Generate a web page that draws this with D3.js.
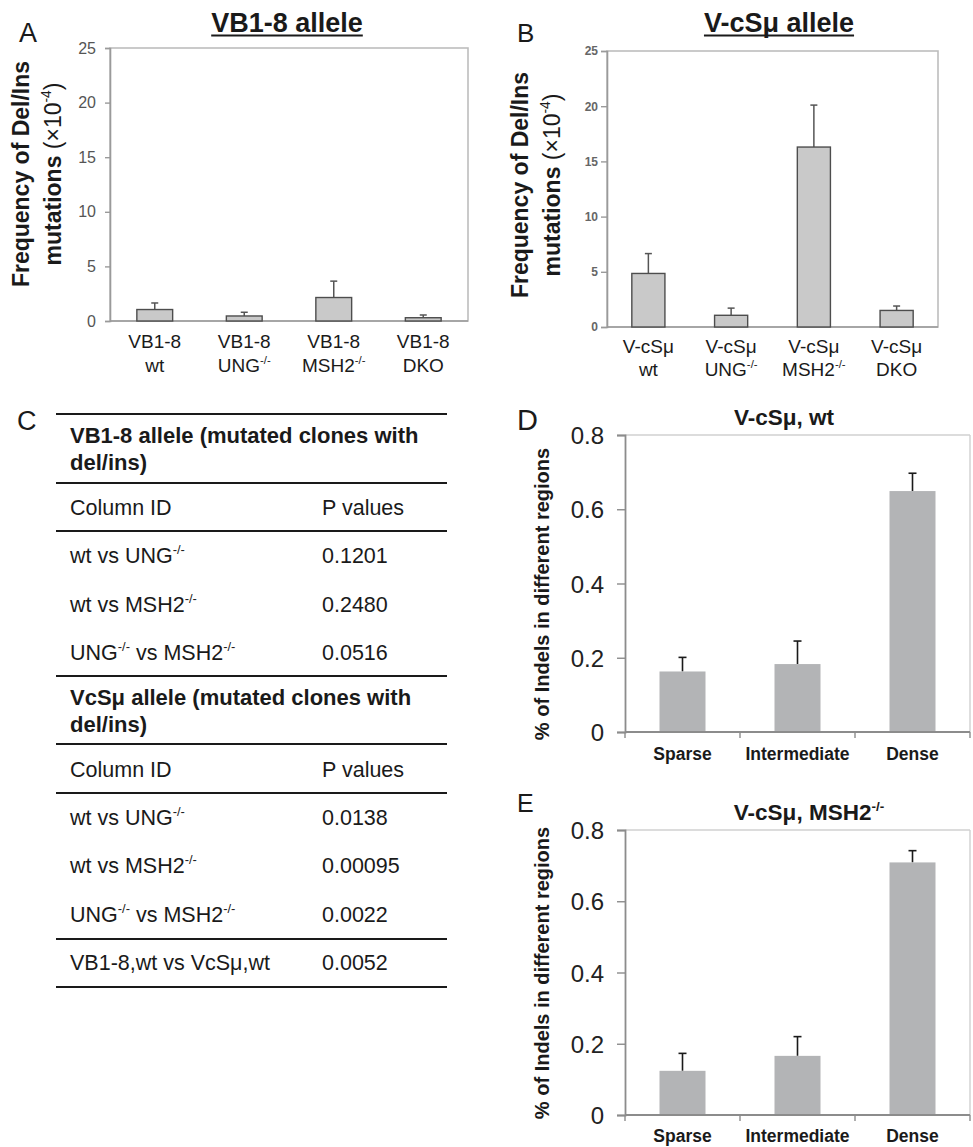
<!DOCTYPE html>
<html><head><meta charset="utf-8">
<script src="https://cdn.jsdelivr.net/npm/d3@7"></script>
<style>
body{margin:0;background:#fff}
svg{display:block}
text{font-family:"Liberation Sans",Arial,Helvetica,sans-serif}
</style>
</head><body>
<svg id="c" width="973" height="1147"></svg>
<script>
// ---------------- DATA ----------------
const freqTicks = [0, 5, 10, 15, 20, 25];
const catsA_l1 = ["VB1-8", "VB1-8", "VB1-8", "VB1-8"];
const catsA_l2 = ["wt", "UNG^{-/-}", "MSH2^{-/-}", "DKO"];
const valsA = [1.05, 0.46, 2.15, 0.3];
const errsA = [0.6, 0.34, 1.5, 0.25];

const catsB_l1 = ["V-cSμ", "V-cSμ", "V-cSμ", "V-cSμ"];
const catsB_l2 = ["wt", "UNG^{-/-}", "MSH2^{-/-}", "DKO"];
const valsB = [4.85, 1.06, 16.3, 1.5];
const errsB = [1.8, 0.65, 3.8, 0.4];

const regionCats = ["Sparse", "Intermediate", "Dense"];
const pctTicks = [0, 0.2, 0.4, 0.6, 0.8];
const valsD = [0.163, 0.183, 0.649];
const errsD = [0.038, 0.062, 0.048];
const valsE = [0.124, 0.166, 0.709];
const errsE = [0.049, 0.054, 0.033];

const tableHead1 = ["VB1-8 allele (mutated clones with", "del/ins)"];
const tableHead2 = ["VcSμ allele (mutated clones with", "del/ins)"];
const colHeads = ["Column ID", "P values"];
const rowsVB = [["wt vs UNG^{-/-}", "0.1201"], ["wt vs MSH2^{-/-}", "0.2480"], ["UNG^{-/-} vs MSH2^{-/-}", "0.0516"]];
const rowsVc = [["wt vs UNG^{-/-}", "0.0138"], ["wt vs MSH2^{-/-}", "0.00095"], ["UNG^{-/-} vs MSH2^{-/-}", "0.0022"]];
const rowLast = ["VB1-8,wt vs VcSμ,wt", "0.0052"];

// ---------------- HELPERS ----------------
const svg = d3.select("#c");

function rich(sel, str, fs) {
  const parts = []; const re = /\^\{([^}]*)\}/g; let last = 0, m;
  while ((m = re.exec(str))) {
    if (m.index > last) parts.push({ t: str.slice(last, m.index) });
    parts.push({ t: m[1], sup: true }); last = re.lastIndex;
  }
  if (last < str.length) parts.push({ t: str.slice(last) });
  let shifted = false;
  parts.forEach(p => {
    const ts = sel.append("tspan").text(p.t);
    if (p.sup) { ts.attr("font-size", fs * 0.6).attr("dy", -fs * 0.42); shifted = true; }
    else if (shifted) { ts.attr("dy", fs * 0.42); shifted = false; }
  });
  return sel;
}

function txt(x, y, str, fs, opts = {}) {
  const t = svg.append("text").attr("x", x).attr("y", y)
    .attr("font-size", fs)
    .attr("font-weight", opts.bold ? "bold" : "normal")
    .attr("fill", opts.fill || "#1a1a1a")
    .attr("text-anchor", opts.anchor || "start");
  rich(t, str, fs);
  return t;
}

// ---------------- PANELS A & B ----------------
function freqPanel(o) {
  const g = svg.append("g");
  const x = d3.scaleBand().domain(d3.range(o.vals.length)).range([o.left, o.right]);
  const y = d3.scaleLinear().domain([0, 25]).range([o.bottom, o.top]);
  g.append("rect").attr("x", o.left).attr("y", o.top)
    .attr("width", o.right - o.left).attr("height", o.bottom - o.top)
    .attr("fill", "none").attr("stroke", "#bdbdbd").attr("stroke-width", 1.6);
  const ax = g.append("g").attr("transform", `translate(${o.left},0)`)
    .call(d3.axisLeft(y).tickValues(freqTicks).tickSize(o.tickSize).tickPadding(o.tickPad));
  ax.select(".domain").attr("stroke", "#9a9a9a").attr("stroke-width", 1.6);
  ax.selectAll(".tick line").attr("stroke", "#9a9a9a").attr("stroke-width", 1.4);
  ax.selectAll(".tick text").attr("font-size", o.tickFs).attr("fill", o.tickFill)
    .attr("font-weight", o.tickBold ? "bold" : "normal")
    .attr("font-family", '"Liberation Sans",Arial,sans-serif');
  g.append("line").attr("x1", o.left).attr("x2", o.right).attr("y1", o.bottom).attr("y2", o.bottom)
    .attr("stroke", "#9a9a9a").attr("stroke-width", 1.6);
  const bw = x.bandwidth() * 0.4;
  const idx = d3.range(o.vals.length);
  // error bars
  g.selectAll(".eb").data(idx).join("g").each(function (i) {
    const cx = x(i) + x.bandwidth() / 2;
    const s = d3.select(this);
    s.append("line").attr("x1", cx).attr("x2", cx).attr("y1", y(o.vals[i])).attr("y2", y(o.vals[i] + o.errs[i]))
      .attr("stroke", "#555").attr("stroke-width", 1.5);
    s.append("line").attr("x1", cx - 3.5).attr("x2", cx + 3.5)
      .attr("y1", y(o.vals[i] + o.errs[i])).attr("y2", y(o.vals[i] + o.errs[i]))
      .attr("stroke", "#555").attr("stroke-width", 1.5);
  });
  g.selectAll(".bar").data(idx).join("rect")
    .attr("x", i => x(i) + x.bandwidth() / 2 - bw / 2)
    .attr("y", i => y(o.vals[i]))
    .attr("width", bw)
    .attr("height", i => y(0) - y(o.vals[i]))
    .attr("fill", "#c9c9c9").attr("stroke", "#4d4d4d").attr("stroke-width", 1.4);
  idx.forEach(i => {
    const cx = x(i) + x.bandwidth() / 2;
    txt(cx, o.lab1, o.l1[i], 19, { anchor: "middle" });
    txt(cx, o.lab2, o.l2[i], 19, { anchor: "middle" });
  });
  // y title
  svg.append("text").attr("transform", `translate(${o.yt1},${o.ytc}) rotate(-90)`)
    .attr("text-anchor", "middle").attr("font-size", 23).attr("font-weight", "bold").attr("fill", "#1a1a1a")
    .text("Frequency of Del/Ins");
  const t2 = svg.append("text").attr("transform", `translate(${o.yt2},${o.ytc}) rotate(-90)`)
    .attr("text-anchor", "middle").attr("font-size", 23).attr("fill", "#1a1a1a");
  t2.append("tspan").attr("font-weight", "bold").text("mutations ");
  rich(t2, "(×10^{-4})", 23);
  // title
  const tt = txt(o.titleX, 32, o.title, 27, { bold: true, anchor: "middle" });
  const bb = tt.node().getBBox();
  svg.append("line").attr("x1", bb.x).attr("x2", bb.x + bb.width).attr("y1", 35.5).attr("y2", 35.5)
    .attr("stroke", "#1a1a1a").attr("stroke-width", 2.2);
}

freqPanel({ left: 110, right: 468, top: 48, bottom: 321, vals: valsA, errs: errsA,
  l1: catsA_l1, l2: catsA_l2, lab1: 348, lab2: 372, tickSize: 5, tickPad: 9, tickFs: 16, tickFill: "#555",
  yt1: 29, yt2: 61, ytc: 174, title: "VB1-8 allele", titleX: 287 });
freqPanel({ left: 607, right: 938, top: 51, bottom: 327, vals: valsB, errs: errsB,
  l1: catsB_l1, l2: catsB_l2, lab1: 353, lab2: 376, tickSize: 6, tickPad: 3, tickFs: 12, tickFill: "#666", tickBold: true,
  yt1: 528, yt2: 560, ytc: 185, title: "V-cSμ allele", titleX: 779 });

// ---------------- PANELS D & E ----------------
function regionPanel(o) {
  const g = svg.append("g");
  const x = d3.scaleBand().domain(regionCats).range([o.left, o.right]);
  const y = d3.scaleLinear().domain([0, 0.8]).range([o.bottom, o.top]);
  g.append("line").attr("x1", o.left).attr("x2", o.right).attr("y1", o.top).attr("y2", o.top)
    .attr("stroke", "#d0d0d0").attr("stroke-width", 1.4);
  g.append("line").attr("x1", o.right).attr("x2", o.right).attr("y1", o.top).attr("y2", o.bottom)
    .attr("stroke", "#d0d0d0").attr("stroke-width", 1.4);
  const ax = g.append("g").attr("transform", `translate(${o.left},0)`)
    .call(d3.axisLeft(y).tickValues(pctTicks).tickSize(8).tickPadding(13)
      .tickFormat(d => d === 0 ? "0" : d3.format(".1f")(d)));
  ax.select(".domain").attr("stroke", "#8c8c8c").attr("stroke-width", 1.8);
  ax.selectAll(".tick line").attr("stroke", "#8c8c8c").attr("stroke-width", 1.4);
  ax.selectAll(".tick text").attr("font-size", 24).attr("fill", "#222")
    .attr("font-family", '"Liberation Sans",Arial,sans-serif').attr("dy", "0.36em");
  // x axis with boundary ticks
  g.append("line").attr("x1", o.left).attr("x2", o.right).attr("y1", o.bottom).attr("y2", o.bottom)
    .attr("stroke", "#8c8c8c").attr("stroke-width", 2);
  const bounds = regionCats.map(c => x(c)).concat([o.right]);
  g.selectAll(".xt").data(bounds).join("line")
    .attr("x1", d => d).attr("x2", d => d).attr("y1", o.bottom).attr("y2", o.bottom + 6)
    .attr("stroke", "#8c8c8c").attr("stroke-width", 1.4);
  const bw = x.bandwidth() * 0.4;
  regionCats.forEach((c, i) => {
    const cx = x(c) + x.bandwidth() / 2;
    g.append("line").attr("x1", cx).attr("x2", cx).attr("y1", y(o.vals[i])).attr("y2", y(o.vals[i] + o.errs[i]))
      .attr("stroke", "#1a1a1a").attr("stroke-width", 1.6);
    g.append("line").attr("x1", cx - 4).attr("x2", cx + 4)
      .attr("y1", y(o.vals[i] + o.errs[i])).attr("y2", y(o.vals[i] + o.errs[i]))
      .attr("stroke", "#1a1a1a").attr("stroke-width", 1.6);
  });
  g.selectAll(".bar").data(regionCats).join("rect")
    .attr("x", c => x(c) + x.bandwidth() / 2 - bw / 2)
    .attr("y", (c, i) => y(o.vals[i]))
    .attr("width", bw)
    .attr("height", (c, i) => y(0) - y(o.vals[i]) - 1)
    .attr("fill", "#b3b4b6");
  regionCats.forEach(c => {
    txt(x(c) + x.bandwidth() / 2, o.labY, c, 17.5, { bold: true, anchor: "middle" });
  });
  svg.append("text").attr("transform", `translate(549,${o.ytc}) rotate(-90)`)
    .attr("text-anchor", "middle").attr("font-size", 20).attr("font-weight", "bold").attr("fill", "#1a1a1a")
    .text("% of Indels in different regions");
  txt(o.titleX, o.titleY, o.title, 22.5, { bold: true, anchor: "middle" });
}

regionPanel({ left: 625, right: 970, top: 435, bottom: 732, vals: valsD, errs: errsD,
  labY: 760, ytc: 594, title: "V-cSμ, wt", titleX: 784, titleY: 425 });
regionPanel({ left: 625, right: 970, top: 830, bottom: 1115, vals: valsE, errs: errsE,
  labY: 1142, ytc: 973, title: "V-cSμ, MSH2^{-/-}", titleX: 809, titleY: 820 });

// ---------------- TABLE C ----------------
const tL = 56, tR = 447, cx1 = 70, cx2 = 322;
const hLines = [414, 483, 531, 676, 744, 793, 939, 987];
svg.selectAll(".hl").data(hLines).join("line")
  .attr("x1", tL).attr("x2", tR).attr("y1", d => d).attr("y2", d => d)
  .attr("stroke", "#1a1a1a").attr("stroke-width", 2);
const hfs = 22, nfs = 21.5;
txt(cx1, 443, tableHead1[0], hfs, { bold: true });
txt(cx1, 470, tableHead1[1], hfs, { bold: true });
txt(cx1, 515, colHeads[0], nfs); txt(cx2, 515, colHeads[1], nfs);
[563, 612, 660].forEach((yy, i) => { txt(cx1, yy, rowsVB[i][0], nfs); txt(cx2, yy, rowsVB[i][1], nfs); });
txt(cx1, 705, tableHead2[0], hfs, { bold: true });
txt(cx1, 732, tableHead2[1], hfs, { bold: true });
txt(cx1, 777, colHeads[0], nfs); txt(cx2, 777, colHeads[1], nfs);
[825, 873, 922].forEach((yy, i) => { txt(cx1, yy, rowsVc[i][0], nfs); txt(cx2, yy, rowsVc[i][1], nfs); });
txt(cx1, 970, rowLast[0], nfs); txt(cx2, 970, rowLast[1], nfs);

// ---------------- PANEL LETTERS ----------------
txt(19, 42, "A", 27);
txt(517, 42, "B", 26);
txt(17, 430, "C", 27);
txt(517, 430, "D", 29);
txt(517, 812, "E", 25);
</script>
</body></html>
